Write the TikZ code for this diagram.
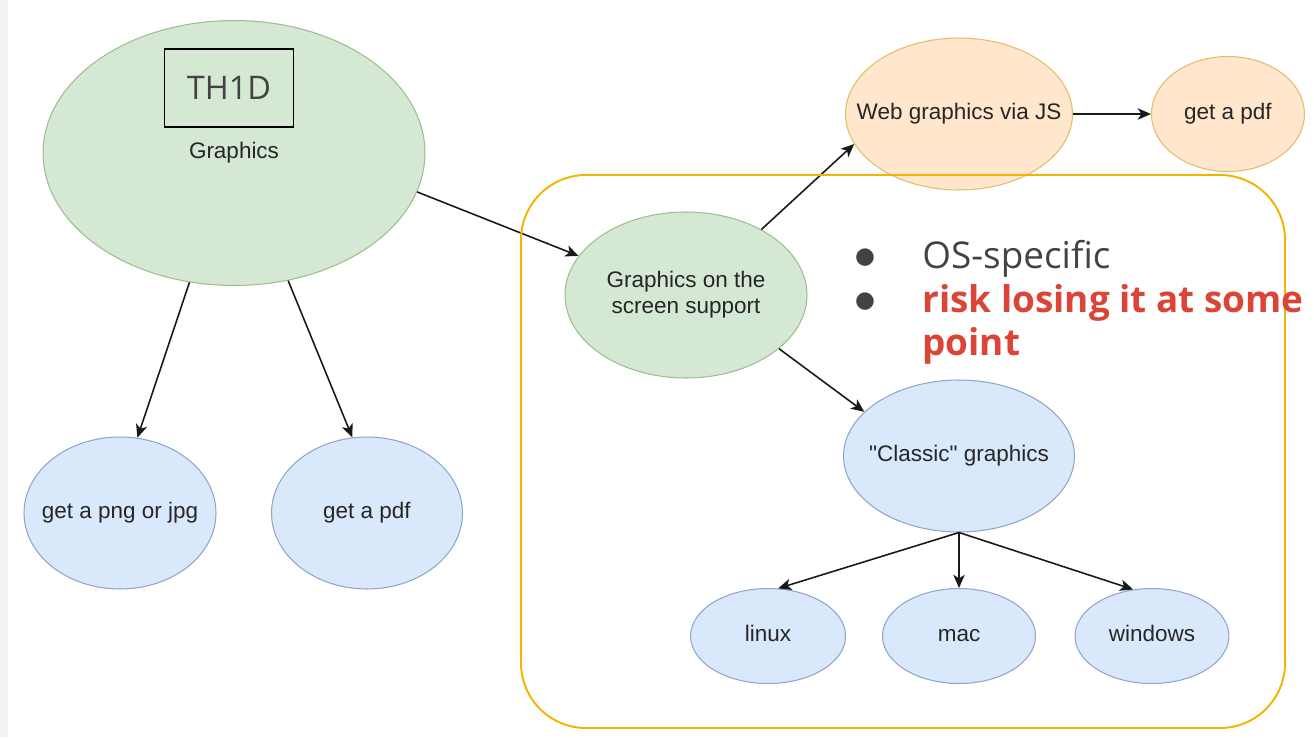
\documentclass[tikz,border=0pt]{standalone}
\usepackage{fontspec}
\newfontfamily\drawio{Liberation Sans}
\newfontfamily\osans{Open Sans}
\newfontfamily\dejavu{DejaVu Sans}
\usetikzlibrary{positioning, arrows.meta, shapes.geometric}

\definecolor{greenfill}{HTML}{D5E8D4}
\definecolor{greenline}{HTML}{9DBE8D}
\definecolor{bluefill}{HTML}{DAE8FC}
\definecolor{blueline}{HTML}{8FA6C9}
\definecolor{orangefill}{HTML}{FFE6CC}
\definecolor{orangeline}{HTML}{E0BE6A}
\definecolor{boxorange}{RGB}{241,180,0}
\definecolor{txtgray}{HTML}{262626}
\definecolor{notegray}{HTML}{434343}
\definecolor{notered}{RGB}{219,68,55}
\definecolor{stripgray}{HTML}{F3F3F3}

\tikzset {
    >={Stealth[length=7.5pt, width=6.5pt, inset=2pt]},
    node distance=3.85cm,
    every node/.style={font=\drawio\fontsize{12.8}{15}\selectfont, text=txtgray},
    blob/.style={ellipse, draw, line width=0.6pt, inner xsep=-0.6cm, inner ysep=0pt, align=center},
    greenblob/.style={blob, draw=greenline, fill=greenfill},
    blueblob/.style={blob, draw=blueline, fill=bluefill},
    orangeblob/.style={blob, draw=orangeline, fill=orangefill},
    flow/.style={->, line width=0.9pt, draw=black!90},
    notebox/.style={draw=boxorange, line width=1.1pt, rounded corners=1.3cm},
    notetext/.style={anchor=base west, inner sep=0pt, text=notegray,
        font=\osans\fontsize{21}{24}\selectfont},
    dot/.style={inner sep=0pt, text=notegray, font=\dejavu\fontsize{13}{13}\selectfont}
}

\begin{document}
\begin{tikzpicture}[x=0.02cm, y=-0.02cm]
    \useasboundingbox (0,0) rectangle (1314,737);
    \fill[stripgray] (0,0) rectangle (8,737);

    % left tree
    \node[greenblob, minimum width=7.64cm, minimum height=5.3cm] (gfx) at (234,153) {\strut Graphics};
    \node[draw=black, line width=0.8pt, minimum width=2.58cm, minimum height=1.56cm,
          text=notegray, font=\osans\fontsize{18.5}{20}\selectfont] (th1d) at (229,88) {TH1D};
    \node[blueblob, minimum width=3.84cm, minimum height=3.04cm] (png) at (120,513) {\strut get a png or jpg};
    \node[blueblob, minimum width=3.82cm, minimum height=3.04cm] (pdfa) at (367,513) {\strut get a pdf};

    % screen side
    \node[greenblob, minimum width=4.84cm, minimum height=3.32cm] (scr) at (686,295) {Graphics on the\\screen support};
    \node[orangeblob, minimum width=4.54cm, minimum height=3.04cm] (web) at (959,114) {\strut Web graphics via JS};
    \node[orangeblob, minimum width=3.06cm, minimum height=2.3cm, right of=web, node distance=5.38cm] (pdfb) {\strut get a pdf};
    \node[blueblob, minimum width=4.62cm, minimum height=3.04cm] (cls) at (959,456) {\strut "Classic" graphics};
    \node[blueblob, minimum width=3.06cm, minimum height=1.9cm] (mac) at (959,636) {\strut mac};
    \node[blueblob, minimum width=3.1cm, minimum height=1.9cm, left of=mac, node distance=3.82cm] (lin) {\strut linux};
    \node[blueblob, minimum width=3.08cm, minimum height=1.9cm, right of=mac, node distance=3.86cm] (win) {\strut windows};

    \path
    (gfx.-109) edge[flow] (png.77)
    (gfx.-67) edge[flow] (pdfa.101)
    (gfx.-12) edge[flow] (scr.160)
    (scr.41) edge[flow] (web.-164)
    (web.east) edge[flow] (pdfb.west)
    (scr.-30) edge[flow] (cls.155)
    (cls.south) edge[flow] (lin.78)
    (cls.south) edge[flow] (mac.north)
    (cls.south) edge[flow] (win.112);

    \draw[notebox] (521,175) rectangle (1285,728);

    % notes
    \node[dot] (b1) at (865,258) {●};
    \node[dot] (b2) at (865,302) {●};
    \node[notetext] (os) at (922,268) {OS-specific};
    \node[notetext, text=notered, font=\osans\bfseries\fontsize{21}{24}\selectfont] (risk) at (922,312) {risk losing it at some};
    \node[notetext, text=notered, font=\osans\bfseries\fontsize{21}{24}\selectfont] (pt) at (922,355) {point};
\end{tikzpicture}
\end{document}
